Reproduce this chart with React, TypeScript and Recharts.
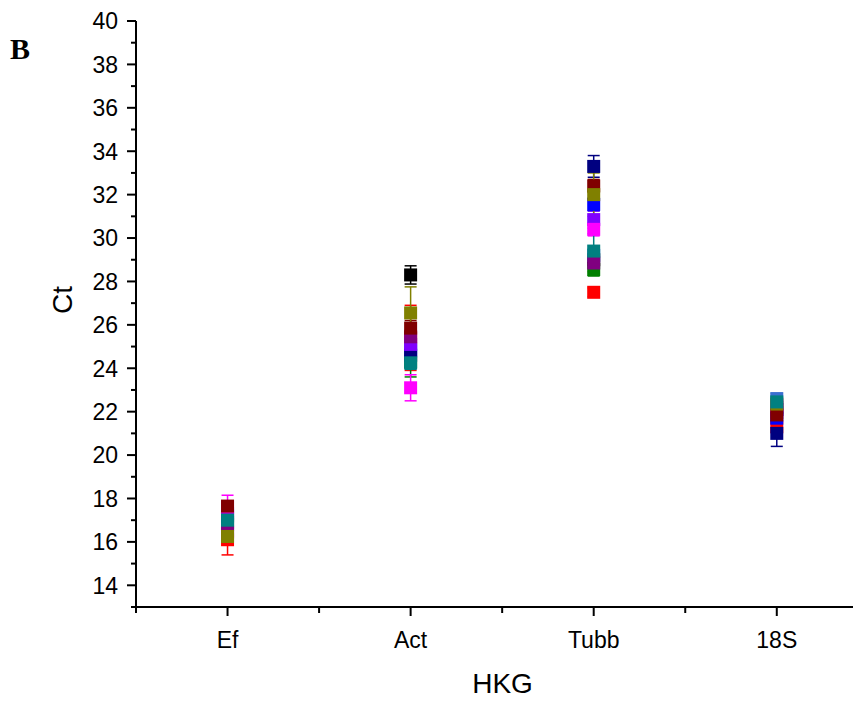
import React from 'react';
import { ScatterChart, Scatter, XAxis, YAxis, ErrorBar, Label } from 'recharts';

// Categories (housekeeping genes) on the x axis
const categories = ['Ef', 'Act', 'Tubb', '18S'];
const xTicks = [0.5, 1, 1.5, 2, 2.5, 3, 3.5, 4];
const yTicks = [13, 14, 15, 16, 17, 18, 19, 20, 21, 22, 23, 24, 25, 26, 27, 28, 29, 30, 31, 32, 33, 34, 35, 36, 37, 38, 39, 40];

// Ct values per sample series, order: Ef, Act, Tubb, 18S
const blackCt = [16.9, 28.3, 29.0, 22.1];
const blackErr = [0.2, 0.42, 0.25, 0.2];
const redCt = [16.1, 25.4, 27.5, 21.3];
const redErr = [0.7, 1.5, 0.2, 0.25];
const greenCt = [16.8, 24.3, 28.55, 22.2];
const greenErr = [0.2, 0.7, 0.3, 0.2];
const blueCt = [17.3, 24.8, 31.55, 21.7];
const blueErr = [0.2, 0.3, 0.3, 0.2];
const royalCt = [17.1, 24.9, 29.2, 22.6];
const royalErr = [0.2, 0.3, 0.3, 0.25];
const navyCt = [17.2, 24.6, 33.3, 21.0];
const navyErr = [0.2, 0.3, 0.5, 0.6];
const violetCt = [16.5, 25.1, 30.85, 22.1];
const violetErr = [0.2, 0.3, 0.4, 0.2];
const purpleCt = [16.45, 25.45, 28.85, 21.95];
const purpleErr = [0.2, 0.3, 0.4, 0.2];
const magentaCt = [17.6, 23.1, 30.4, 22.3];
const magentaErr = [0.55, 0.6, 0.3, 0.2];
const wineCt = [17.65, 25.85, 32.4, 21.85];
const wineErr = [0.2, 0.35, 0.3, 0.2];
const oliveCt = [16.25, 26.55, 32.0, 22.35];
const oliveErr = [0.3, 1.2, 1.0, 0.25];
const darkCyanCt = [17.0, 24.25, 29.4, 22.45];
const darkCyanErr = [0.3, 0.3, 0.8, 0.25];

const seriesNames = ['black', 'red', 'green', 'blue', 'royal', 'navy', 'violet', 'purple', 'magenta', 'wine', 'olive', 'darkCyan'];
const seriesColors = ['#000000', '#FF0000', '#008000', '#0000FF', '#3A6FD0', '#000080', '#8000FF', '#800080', '#FF00FF', '#800000', '#808000', '#008080'];
const seriesValues = [blackCt, redCt, greenCt, blueCt, royalCt, navyCt, violetCt, purpleCt, magentaCt, wineCt, oliveCt, darkCyanCt];
const seriesErrors = [blackErr, redErr, greenErr, blueErr, royalErr, navyErr, violetErr, purpleErr, magentaErr, wineErr, oliveErr, darkCyanErr];

const FONT = '"Liberation Sans", Arial, sans-serif';

const seriesData = seriesNames.map((name, i) => ({
  name,
  color: seriesColors[i],
  data: categories.map((c, j) => ({ x: j + 1, cat: c, y: seriesValues[i][j], err: seriesErrors[i][j] })),
}));

const YTick = (props: any) => {
  const { x, y, payload } = props;
  const v = payload.value;
  const major = v % 2 === 0;
  return (
    <g>
      <line x1={x} y1={y} x2={x - (major ? 9 : 5)} y2={y} stroke="#000" strokeWidth={2} />
      {major && (
        <text x={x - 18} y={y} dy="0.36em" textAnchor="end" fontSize={23} fontFamily={FONT} fill="#000">
          {v}
        </text>
      )}
    </g>
  );
};

const XTick = (props: any) => {
  const { x, y, payload } = props;
  const v = payload.value;
  const major = Number.isInteger(v);
  return (
    <g>
      <line x1={x} y1={y} x2={x} y2={y + (major ? 9 : 6)} stroke="#000" strokeWidth={2} />
      {major && (
        <text x={x} y={y + 41} textAnchor="middle" fontSize={23} fontFamily={FONT} fill="#000">
          {categories[v - 1]}
        </text>
      )}
    </g>
  );
};

const Square = (props: any) => {
  const { cx, cy, fill } = props;
  if (cx == null || cy == null) return null;
  return <rect x={cx - 6.5} y={cy - 6.5} width={13} height={13} fill={fill} />;
};

export default function App() {
  return (
    <div style={{ position: 'relative', width: 853, height: 694 }}>
      <div
        style={{
          position: 'absolute',
          left: 2,
          top: 26,
          fontFamily: '"Liberation Serif", "Times New Roman", serif',
          fontWeight: 'bold',
          fontSize: 30,
          lineHeight: '30px',
        }}
      >
        B
      </div>
      <ScatterChart width={853} height={694} margin={{ top: 13, right: 0, bottom: 0, left: 8 }}>
        <XAxis
          type="number"
          dataKey="x"
          domain={[0.5, 4.46]}
          ticks={xTicks}
          interval={0}
          allowDataOverflow
          height={95}
          axisLine={{ stroke: '#000', strokeWidth: 2 }}
          tickLine={false}
          tickSize={0}
          tickMargin={0}
          tick={<XTick />}
        >
          <Label
            content={(p: any) => {
              const vb = p.viewBox;
              return (
                <text x={vb.x + vb.width / 2 + 4} y={vb.y + 86} textAnchor="middle" fontSize={28} fontFamily={FONT} fill="#000">
                  HKG
                </text>
              );
            }}
          />
        </XAxis>
        <YAxis
          type="number"
          dataKey="y"
          domain={[13, 40]}
          ticks={yTicks}
          interval={0}
          allowDataOverflow
          width={120}
          axisLine={{ stroke: '#000', strokeWidth: 2 }}
          tickLine={false}
          tickSize={0}
          tickMargin={0}
          tick={<YTick />}
        >
          <Label
            content={(p: any) => {
              const vb = p.viewBox;
              const cx = vb.x + vb.width - 74;
              const cy = vb.y + vb.height / 2 - 14;
              return (
                <text
                  x={cx}
                  y={cy}
                  dy="0.36em"
                  textAnchor="middle"
                  fontSize={28}
                  fontFamily={FONT}
                  fill="#000"
                  transform={`rotate(-90 ${cx} ${cy})`}
                >
                  Ct
                </text>
              );
            }}
          />
        </YAxis>
        {seriesData.map((s) => (
          <Scatter
            key={s.name}
            name={s.name}
            data={s.data}
            fill={s.color}
            shape={<Square />}
            isAnimationActive={false}
          >
            <ErrorBar dataKey="err" direction="y" width={6} stroke={s.color} strokeWidth={1.5} />
          </Scatter>
        ))}
      </ScatterChart>
    </div>
  );
}
